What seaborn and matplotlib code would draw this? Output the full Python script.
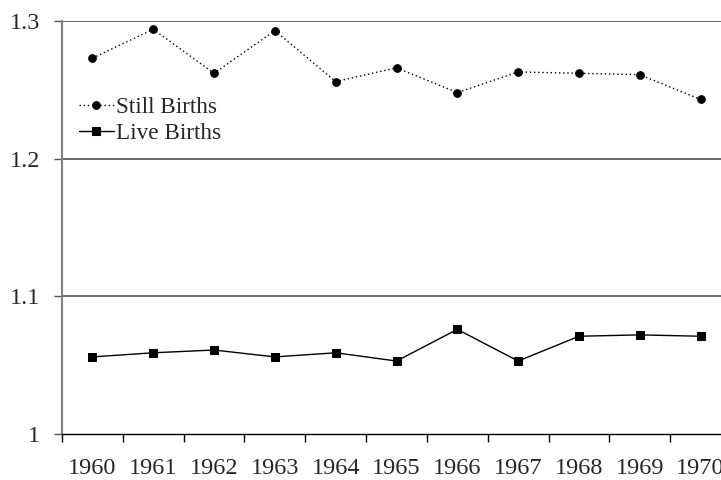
import matplotlib
matplotlib.use("Agg")
import matplotlib.pyplot as plt
import seaborn as sns
import pandas as pd
import numpy as np

years = ["1960", "1961", "1962", "1963", "1964", "1965", "1966", "1967", "1968", "1969", "1970"]
still_births = [1.273, 1.294, 1.262, 1.293, 1.256, 1.266, 1.248, 1.263, 1.262, 1.261, 1.243]
live_births = [1.056, 1.059, 1.061, 1.056, 1.059, 1.053, 1.076, 1.053, 1.071, 1.072, 1.071]
y_ticks = [1.0, 1.1, 1.2, 1.3]
y_tick_labels = ["1", "1.1", "1.2", "1.3"]

sns.set_theme(style="white")
plt.rcParams["font.family"] = ["Liberation Serif", "DejaVu Serif"]

df = pd.DataFrame({
    "pos": list(range(len(years))) * 2,
    "value": still_births + live_births,
    "series": ["Still Births"] * len(years) + ["Live Births"] * len(years),
})

fig = plt.figure(figsize=(7.21, 4.80), dpi=100)
ax = fig.add_axes([62 / 721, 1 - 434 / 480, 669 / 721, 413 / 480])

sns.lineplot(data=df[df.series == "Still Births"], x="pos", y="value", ax=ax,
             color="black", linestyle=(0, (1, 2)), linewidth=1.0,
             marker="o", markersize=5.5, markeredgecolor="black", label="Still Births")
sns.lineplot(data=df[df.series == "Live Births"], x="pos", y="value", ax=ax,
             color="black", linestyle="-", linewidth=1.0,
             marker="s", markersize=5.5, markeredgecolor="black", label="Live Births")

ax.set_xlim(-0.5, len(years) - 0.5)
ax.set_ylim(1.0, 1.3)
ax.set_xlabel("")
ax.set_ylabel("")

# y axis
ax.set_yticks(y_ticks)
ax.set_yticklabels(y_tick_labels)
for y in y_ticks[1:]:
    ax.axhline(y, color="#505050", linewidth=1.2, zorder=0)

# x axis: tick marks at category boundaries, labels at centers
ax.set_xticks(np.arange(-0.5, len(years), 1.0))
ax.set_xticklabels([])
ax.set_xticks(np.arange(len(years)), minor=True)
ax.set_xticklabels(years, minor=True)
ax.tick_params(axis="x", which="major", direction="out", length=6, width=1, color="black", bottom=True)
ax.tick_params(axis="x", which="minor", length=0, pad=17, labelsize=17.5)
ax.tick_params(axis="y", which="major", direction="out", length=6, width=1, color="#505050", left=True, pad=9.5, labelsize=17.5)

for s in ["top", "right"]:
    ax.spines[s].set_visible(False)
ax.spines["left"].set_color("#808080")
ax.spines["left"].set_linewidth(1.5)
ax.spines["bottom"].set_color("black")
ax.spines["bottom"].set_linewidth(1.0)

leg = ax.legend(loc="center left", bbox_to_anchor=(0.025, 0.76), frameon=False,
                fontsize=16.7, handlelength=1.5, handletextpad=0.1, labelspacing=0.2,
                borderaxespad=0, borderpad=0)

fig.savefig("out.png", dpi=100)
